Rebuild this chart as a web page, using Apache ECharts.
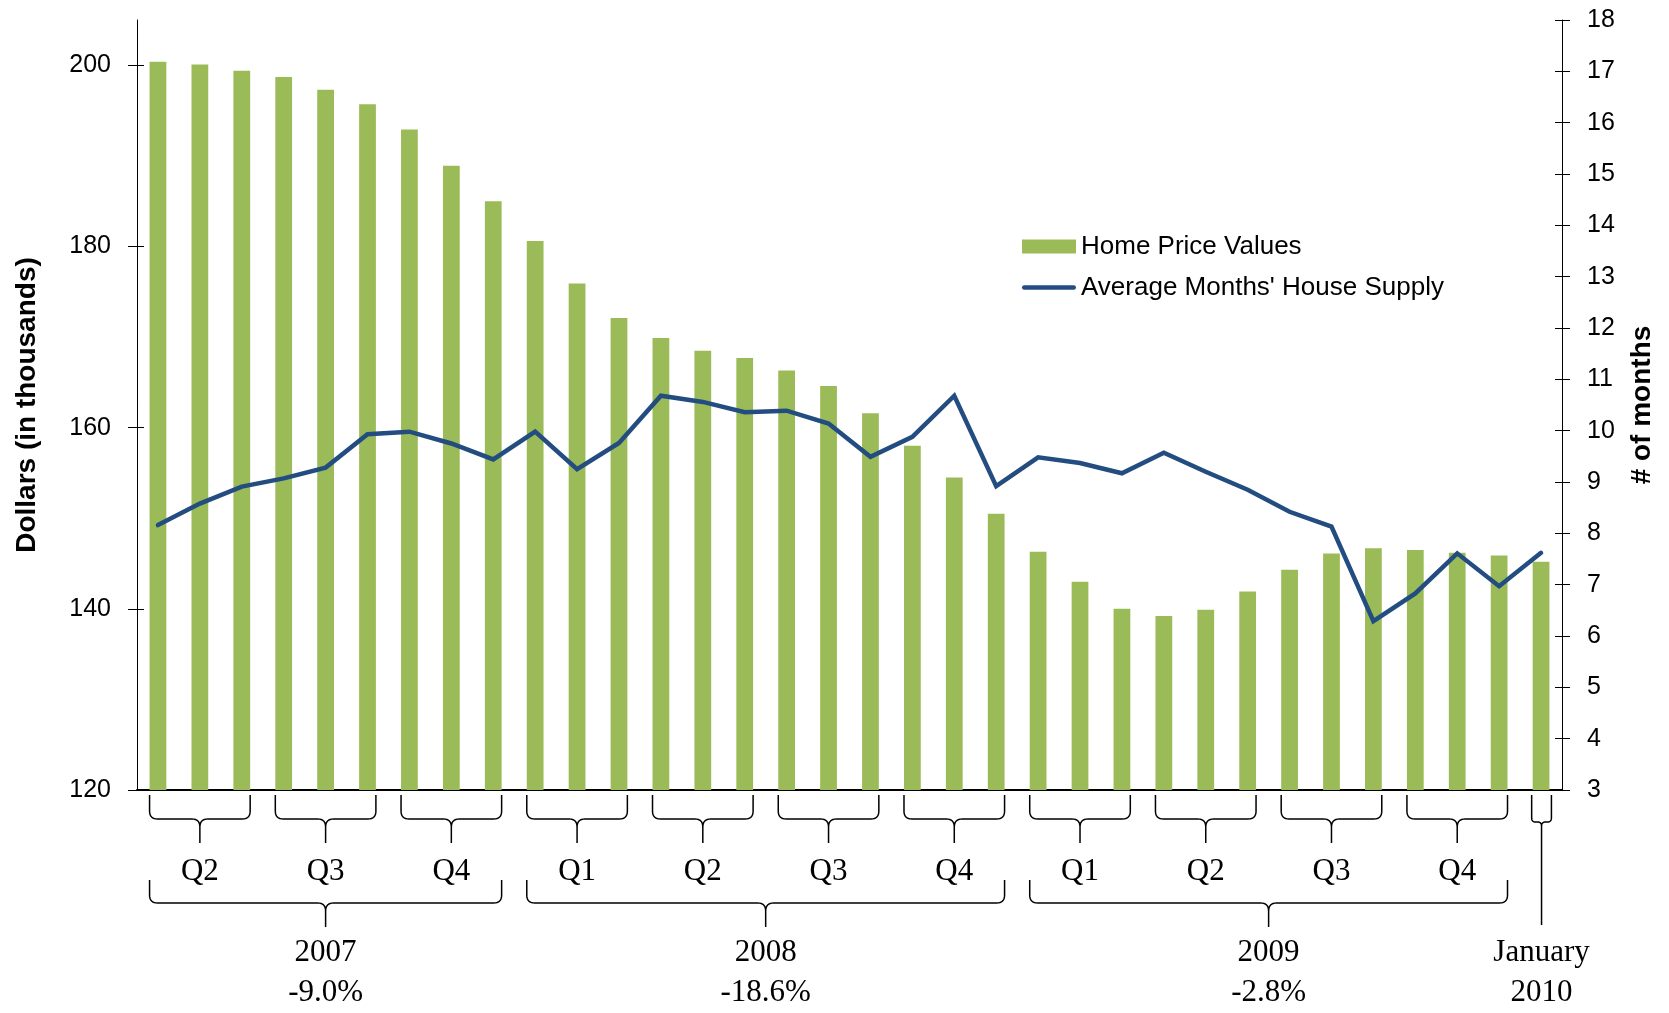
<!DOCTYPE html>
<html>
<head>
<meta charset="utf-8">
<title>Home Price Values vs Months' House Supply</title>
<script src="https://cdn.jsdelivr.net/npm/echarts@6/dist/echarts.min.js"></script>
<style>
  html, body { margin: 0; padding: 0; background: #fff; }
  #chart { width: 1669px; height: 1013px; }
</style>
</head>
<body>
<div id="chart"></div>
<script>
// monthly categories, Apr 2007 .. Jan 2010
const months = [
  'Apr 2007', 'May 2007', 'Jun 2007', 'Jul 2007', 'Aug 2007', 'Sep 2007', 'Oct 2007', 'Nov 2007', 'Dec 2007',
  'Jan 2008', 'Feb 2008', 'Mar 2008', 'Apr 2008', 'May 2008', 'Jun 2008', 'Jul 2008', 'Aug 2008', 'Sep 2008',
  'Oct 2008', 'Nov 2008', 'Dec 2008',
  'Jan 2009', 'Feb 2009', 'Mar 2009', 'Apr 2009', 'May 2009', 'Jun 2009', 'Jul 2009', 'Aug 2009', 'Sep 2009',
  'Oct 2009', 'Nov 2009', 'Dec 2009',
  'Jan 2010'
];

// dollars, in thousands
const homePrice = [
  200.4, 200.1, 199.4, 198.7, 197.3, 195.7, 192.9, 188.9, 185.0,
  180.6, 175.9, 172.1, 169.9, 168.5, 167.7, 166.3, 164.6, 161.6,
  158.0, 154.5, 150.5,
  146.3, 143.0, 140.0, 139.2, 139.9, 141.9, 144.3, 146.1, 146.7,
  146.5, 146.2, 145.9,
  145.2
];

// number of months
const monthsSupply = [
  8.16, 8.58, 8.91, 9.07, 9.28, 9.93, 9.98, 9.75, 9.44,
  9.98, 9.25, 9.76, 10.68, 10.56, 10.36, 10.39, 10.14, 9.49,
  9.88, 10.68, 8.92,
  9.48, 9.37, 9.17, 9.57, 9.20, 8.85, 8.42, 8.13, 6.29,
  6.83, 7.61, 6.97,
  7.62
];

const leftTicks = [120, 140, 160, 180, 200];

// quarter groups: label + first/last month index
const quarterLabels = ['Q2', 'Q3', 'Q4', 'Q1', 'Q2', 'Q3', 'Q4', 'Q1', 'Q2', 'Q3', 'Q4'];
const quarterFirst  = [0, 3, 6, 9, 12, 15, 18, 21, 24, 27, 30];
const quarterLast   = [2, 5, 8, 11, 14, 17, 20, 23, 26, 29, 32];

// year groups
const yearLabels  = ['2007', '2008', '2009'];
const yearChanges = ['-9.0%', '-18.6%', '-2.8%'];
const yearFirst   = [0, 9, 21];
const yearLast    = [8, 20, 32];

const lastLabel = ['January', '2010'];

const sansFont = '"Liberation Sans", Arial, Helvetica, sans-serif';
const serifFont = '"Liberation Serif", "Times New Roman", serif';
const lineColor = '#234D80';

const chart = echarts.init(document.getElementById('chart'));

const option = {
  animation: false,
  backgroundColor: '#fff',
  grid: {
    left: 137,
    right: 107,
    top: 20,
    bottom: 223,
    containLabel: false,
    outerBoundsMode: 'none'
  },
  legend: {
    orient: 'vertical',
    left: 1022,
    top: 233,
    padding: 0,
    itemWidth: 54,
    itemHeight: 14,
    itemGap: 14,
    selectedMode: false,
    symbolKeepAspect: true,
    textStyle: {
      fontFamily: sansFont,
      fontSize: 26,
      lineHeight: 27,
      color: '#000'
    },
    data: [
      { name: 'Home Price Values', icon: 'rect' },
      { name: "Average Months' House Supply", icon: 'path://M2,0 L52,0 A2.2,2.2 0 0 1 52,4.5 L2,4.5 A2.2,2.2 0 0 1 2,0 Z' }
    ]
  },
  xAxis: {
    type: 'category',
    data: months,
    boundaryGap: true,
    axisLine: { show: true, lineStyle: { color: '#000', width: 2 } },
    axisTick: { show: false },
    axisLabel: { show: false },
    splitLine: { show: false }
  },
  yAxis: [
    {
      type: 'value',
      position: 'left',
      min: 120,
      max: 205,
      interval: 20,
      name: 'Dollars (in thousands)',
      nameLocation: 'middle',
      nameGap: 96,
      nameTextStyle: { fontFamily: sansFont, fontSize: 28, fontWeight: 'bold', color: '#000' },
      axisLine: { show: true, lineStyle: { color: '#000', width: 1 } },
      axisTick: { show: true, length: 9, customValues: leftTicks, lineStyle: { color: '#000' } },
      axisLabel: { fontFamily: sansFont, fontSize: 25, color: '#000', margin: 26, customValues: leftTicks },
      splitLine: { show: false }
    },
    {
      type: 'value',
      position: 'right',
      min: 3,
      max: 18,
      interval: 1,
      name: '# of months',
      nameLocation: 'middle',
      nameGap: 66,
      nameTextStyle: { fontFamily: sansFont, fontSize: 28, fontWeight: 'bold', color: '#000' },
      axisLine: { show: true, lineStyle: { color: '#000', width: 1 } },
      axisTick: { show: true, length: 8, lineStyle: { color: '#000' } },
      axisLabel: { fontFamily: sansFont, fontSize: 25, color: '#000', margin: 25 },
      splitLine: { show: false }
    },
    {
      // inner half of the crossing ticks, left
      type: 'value',
      position: 'left',
      min: 120,
      max: 205,
      interval: 20,
      axisLine: { show: false },
      axisTick: { show: true, inside: true, length: 7, customValues: leftTicks, lineStyle: { color: '#000' } },
      axisLabel: { show: false },
      splitLine: { show: false }
    },
    {
      // inner half of the crossing ticks, right
      type: 'value',
      position: 'right',
      min: 3,
      max: 18,
      interval: 1,
      axisLine: { show: false },
      axisTick: { show: true, inside: true, length: 7, lineStyle: { color: '#000' } },
      axisLabel: { show: false },
      splitLine: { show: false }
    }
  ],
  series: [
    {
      name: 'Home Price Values',
      type: 'bar',
      yAxisIndex: 0,
      data: homePrice,
      barWidth: '40%',
      itemStyle: { color: '#9BBB59' },
      z: 2
    },
    {
      name: "Average Months' House Supply",
      type: 'line',
      yAxisIndex: 1,
      data: monthsSupply,
      symbol: 'none',
      lineStyle: { color: lineColor, width: 4.5, cap: 'round', join: 'miter' },
      itemStyle: { color: lineColor },
      z: 3
    }
  ]
};

chart.setOption(option);

// ---- brackets and group labels under the axis ----
const cx = i => chart.convertToPixel({ xAxisIndex: 0 }, i);
const step = cx(1) - cx(0);
const half = step * 0.2;
const yBase = chart.convertToPixel({ yAxisIndex: 0 }, 120);

function quadPts(out, p0, p1, p2) {
  for (let k = 1; k <= 8; k++) {
    const t = k / 8, a = (1 - t) * (1 - t), b = 2 * (1 - t) * t, c = t * t;
    out.push([a * p0[0] + b * p1[0] + c * p2[0], a * p0[1] + b * p1[1] + c * p2[1]]);
  }
}

function bracePoints(x1, x2, yTop, yMid, yTip, r) {
  const xc = (x1 + x2) / 2;
  const pts = [[x1, yTop], [x1, yMid - r]];
  quadPts(pts, [x1, yMid - r], [x1, yMid], [x1 + r, yMid]);
  pts.push([xc - r, yMid]);
  quadPts(pts, [xc - r, yMid], [xc, yMid], [xc, yMid + r]);
  pts.push([xc, yTip], [xc, yMid + r]);
  quadPts(pts, [xc, yMid + r], [xc, yMid], [xc + r, yMid]);
  pts.push([x2 - r, yMid]);
  quadPts(pts, [x2 - r, yMid], [x2, yMid], [x2, yMid - r]);
  pts.push([x2, yTop]);
  return pts;
}

function brace(x1, x2, yTop, yMid, yTip, r) {
  return {
    type: 'polyline',
    silent: true,
    shape: { points: bracePoints(x1, x2, yTop, yMid, yTip, r) },
    style: { stroke: '#000', lineWidth: 1.5, fill: null }
  };
}

function label(text, x, y) {
  return {
    type: 'text',
    silent: true,
    x: x,
    y: y,
    style: {
      text: text,
      font: '31px ' + serifFont,
      fill: '#000',
      textAlign: 'center',
      textVerticalAlign: 'middle'
    }
  };
}

const graphics = [];

quarterLabels.forEach((q, k) => {
  const x1 = cx(quarterFirst[k]) - half;
  const x2 = cx(quarterLast[k]) + half;
  graphics.push(brace(x1, x2, yBase + 5, yBase + 29, yBase + 53, 8));
  graphics.push(label(q, (x1 + x2) / 2, yBase + 82));
});

yearLabels.forEach((yr, k) => {
  const x1 = cx(yearFirst[k]) - half;
  const x2 = cx(yearLast[k]) + half;
  graphics.push(brace(x1, x2, yBase + 90, yBase + 113, yBase + 137, 8));
  graphics.push(label(yr, (x1 + x2) / 2, yBase + 163));
  graphics.push(label(yearChanges[k], (x1 + x2) / 2, yBase + 203));
});

// January 2010: single month
const lastIdx = months.length - 1;
const jx1 = cx(lastIdx) - half - 1;
const jx2 = cx(lastIdx) + half + 2;
graphics.push(brace(jx1, jx2, yBase + 5, yBase + 32, yBase + 135, 4));
graphics.push(label(lastLabel[0], (jx1 + jx2) / 2, yBase + 163));
graphics.push(label(lastLabel[1], (jx1 + jx2) / 2, yBase + 203));

chart.setOption({ graphic: { elements: graphics } });
</script>
</body>
</html>
